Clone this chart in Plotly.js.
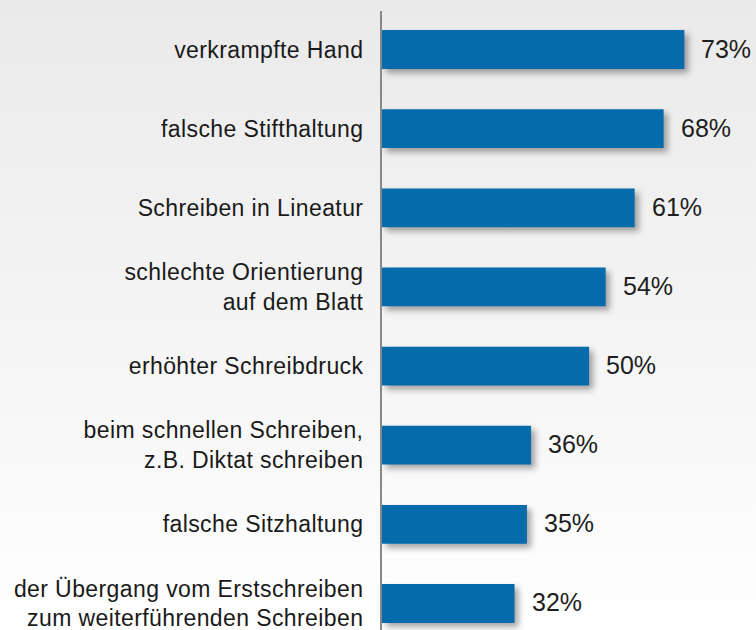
<!DOCTYPE html>
<html lang="en">
<head>
    <meta charset="UTF-8">
    <title>Probleme beim Schreiben</title>
    <script src="https://cdn.plot.ly/plotly-3.0.1.min.js"></script>
    <style>
        html, body {
            margin: 0;
            padding: 0;
        }
        body {
            width: 756px;
            height: 630px;
            background: linear-gradient(to bottom, #eaeaea 0%, #f5f5f5 55%, #ffffff 100%);
        }
        #chart {
            width: 756px;
            height: 630px;
        }
        /* soft drop shadow under the bars */
        .barlayer .point path {
            filter: drop-shadow(4px 4px 3px rgba(0, 0, 0, 0.35));
        }
        /* the original labels are set slightly wider */
        .ytick text {
            letter-spacing: 0.4px;
        }
    </style>
</head>
<body>
    <div id="chart"></div>
    <script>
        // Data
        const labels = [
            'verkrampfte Hand',
            'falsche Stifthaltung',
            'Schreiben in Lineatur',
            'schlechte Orientierung<br>auf dem Blatt',
            'erhöhter Schreibdruck',
            'beim schnellen Schreiben,<br>z.B. Diktat schreiben',
            'falsche Sitzhaltung',
            'der Übergang vom Erstschreiben<br>zum weiterführenden Schreiben'
        ];
        const values = [73, 68, 61, 54, 50, 36, 35, 32];

        const barColor = '#066bab';

        const trace = {
            type: 'bar',
            orientation: 'h',
            x: values,
            y: labels,
            width: 0.49,
            marker: { color: barColor, line: { width: 0 } },
            hoverinfo: 'none'
        };

        // value labels right of the bars
        const annotations = values.map((v, i) => ({
            x: v,
            y: labels[i],
            xref: 'x',
            yref: 'y',
            text: v + '%',
            showarrow: false,
            xanchor: 'left',
            yanchor: 'middle',
            xshift: 15,
            yshift: 1,
            font: { family: 'Liberation Sans, Arial, sans-serif', size: 25, color: '#1e1e1e' }
        }));

        const layout = {
            width: 756,
            height: 630,
            margin: { l: 382, r: 0, t: 11, b: 0, pad: 0 },
            paper_bgcolor: 'rgba(0,0,0,0)',
            plot_bgcolor: 'rgba(0,0,0,0)',
            showlegend: false,
            font: { family: 'Liberation Sans, Arial, sans-serif', color: '#1a1a1a' },
            xaxis: {
                range: [0, 90.3],
                visible: false,
                fixedrange: true
            },
            yaxis: {
                type: 'category',
                categoryorder: 'array',
                categoryarray: labels,
                range: [7.335, -0.4865],
                autorange: false,
                showline: true,
                linecolor: '#888888',
                linewidth: 2,
                showgrid: false,
                zeroline: false,
                ticks: 'outside',
                ticklen: 12,
                tickcolor: 'rgba(0,0,0,0)',
                tickfont: { size: 23, color: '#1a1a1a' },
                fixedrange: true
            },
            annotations: annotations
        };

        Plotly.newPlot('chart', [trace], layout, { displayModeBar: false, staticPlot: true });
    </script>
</body>
</html>
